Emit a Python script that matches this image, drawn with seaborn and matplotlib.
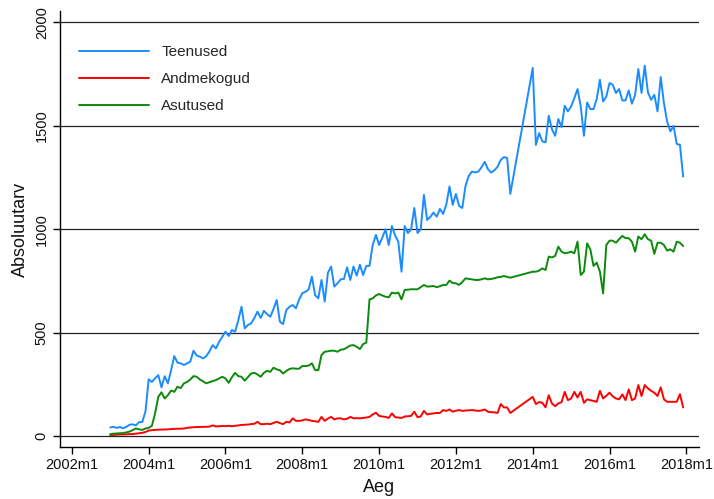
import numpy as np
import pandas as pd
import matplotlib
matplotlib.use("Agg")
import matplotlib.pyplot as plt
import seaborn as sns

# Monthly series 2003m1 .. 2017m12 (2013m7-2013m12 missing)
NA = np.nan
months = pd.period_range("2003-01", "2017-12", freq="M")

teenused = [
    42, 45, 40, 44, 38, 45, 55, 57, 52, 68, 68, 120,                     # 2003
    275, 262, 280, 295, 236, 290, 255, 319, 387, 355, 352, 344,          # 2004
    352, 360, 413, 390, 384, 376, 387, 410, 440, 424, 456, 480,          # 2005
    505, 484, 513, 505, 560, 626, 521, 537, 545, 571, 602, 571,          # 2006
    606, 590, 577, 615, 658, 553, 542, 610, 625, 634, 618, 660,          # 2007
    691, 698, 710, 771, 682, 666, 755, 650, 790, 820, 723, 739,          # 2008
    758, 760, 816, 755, 820, 776, 829, 779, 823, 823, 924, 973,          # 2009
    924, 960, 1000, 924, 1016, 970, 940, 795, 1016, 982, 1000, 1103,     # 2010
    982, 1000, 1166, 1045, 1060, 1081, 1061, 1099, 1074, 1120, 1207, 1118,  # 2011
    1171, 1113, 1103, 1210, 1258, 1279, 1275, 1279, 1300, 1326, 1291, 1274,  # 2012
    1285, 1302, 1335, 1349, 1345, 1171, NA, NA, NA, NA, NA, NA,          # 2013
    1780, 1408, 1465, 1425, 1420, 1549, 1484, 1452, 1533, 1494, 1597, 1570,  # 2014
    1594, 1634, 1678, 1594, 1452, 1613, 1581, 1581, 1630, 1723, 1618, 1642,  # 2015
    1707, 1699, 1659, 1678, 1623, 1623, 1671, 1607, 1650, 1775, 1659, 1791,  # 2016
    1662, 1626, 1650, 1570, 1736, 1610, 1521, 1473, 1500, 1413, 1408, 1255,  # 2017
]

andmekogud = [
    5, 6, 7, 8, 8, 9, 10, 10, 12, 14, 16, 20,                 # 2003
    27, 29, 30, 31, 32, 32, 33, 34, 35, 36, 36, 37,           # 2004
    40, 42, 43, 44, 44, 45, 45, 46, 52, 47, 48, 49,           # 2005
    48, 50, 48, 50, 52, 54, 55, 56, 58, 60, 69, 58,           # 2006
    58, 60, 58, 64, 69, 63, 58, 69, 66, 86, 74, 74,           # 2007
    76, 81, 78, 74, 72, 69, 93, 74, 85, 93, 81, 86,           # 2008
    86, 81, 84, 93, 86, 87, 86, 88, 90, 93, 105, 113,         # 2009
    98, 95, 93, 88, 110, 92, 90, 88, 95, 96, 98, 118,         # 2010
    92, 95, 122, 105, 108, 110, 112, 112, 126, 122, 129, 118, # 2011
    123, 126, 122, 124, 125, 126, 124, 122, 124, 129, 118, 116,  # 2012
    115, 112, 155, 139, 139, 112, NA, NA, NA, NA, NA, NA,     # 2013
    190, 155, 165, 161, 139, 198, 158, 145, 158, 164, 214, 174,  # 2014
    182, 214, 187, 214, 161, 178, 174, 170, 166, 219, 182, 195,  # 2015
    210, 192, 182, 178, 202, 174, 226, 174, 182, 247, 194, 247,  # 2016
    231, 219, 210, 194, 236, 178, 166, 166, 166, 166, 203, 139,  # 2017
]

asutused = [
    10, 12, 13, 14, 15, 18, 22, 29, 37, 33, 30, 37,               # 2003
    40, 50, 110, 190, 212, 182, 198, 220, 214, 239, 232, 255,     # 2004
    262, 274, 290, 287, 274, 265, 255, 261, 266, 271, 279, 287,   # 2005
    279, 258, 285, 306, 290, 287, 268, 285, 303, 306, 298, 287,   # 2006
    306, 316, 311, 331, 323, 318, 303, 315, 325, 328, 326, 326,   # 2007
    339, 339, 341, 352, 319, 319, 392, 408, 410, 413, 413, 408,   # 2008
    418, 420, 429, 438, 440, 432, 421, 445, 452, 661, 666, 680,   # 2009
    687, 680, 674, 671, 694, 690, 694, 661, 707, 708, 710, 710,   # 2010
    710, 720, 731, 723, 724, 726, 720, 725, 731, 731, 752, 740,   # 2011
    739, 731, 745, 763, 760, 758, 755, 755, 758, 763, 758, 760,   # 2012
    763, 768, 770, 774, 770, 766, NA, NA, NA, NA, NA, NA,         # 2013
    795, 795, 800, 811, 803, 868, 864, 871, 916, 892, 884, 887,   # 2014
    892, 884, 940, 779, 795, 932, 903, 823, 839, 795, 690, 924,   # 2015
    945, 945, 935, 952, 968, 957, 957, 940, 892, 965, 952, 976,   # 2016
    952, 945, 881, 935, 935, 924, 897, 903, 892, 940, 935, 919,   # 2017
]

series_names = ["Teenused", "Andmekogud", "Asutused"]
series_colors = ["#1a8cff", "#ff0000", "#0b8a0b"]
tick_years = list(range(2002, 2019, 2))
tick_labels = [f"{y}m1" for y in tick_years]
y_ticks = [0, 500, 1000, 1500, 2000]

# decimal time, like Stata's monthly axis
t = months.year + (months.month - 1) / 12.0
df = pd.DataFrame({"t": t, "Teenused": teenused,
                   "Andmekogud": andmekogud, "Asutused": asutused})
long_df = df.melt(id_vars="t", var_name="seeria", value_name="arv").dropna()

sns.set_theme(style="white")
plt.rcParams["font.family"] = ["Liberation Sans", "DejaVu Sans"]

fig = plt.figure(figsize=(7.14, 4.99), dpi=100)
ax = fig.add_axes([0.084, 0.104, 0.895, 0.873])

sns.lineplot(data=long_df, x="t", y="arv", hue="seeria", hue_order=series_names,
             palette=dict(zip(series_names, series_colors)), linewidth=1.4,
             ax=ax, estimator=None, sort=True)

ax.set_xlim(2001.69, 2018.33)
ax.set_ylim(-53, 2053)
ax.set_xticks(tick_years)
ax.set_xticklabels(tick_labels)
ax.set_yticks(y_ticks)
ax.set_yticklabels([str(v) for v in y_ticks], rotation=90, va="center")

ax.yaxis.grid(True, color="#222222", linewidth=0.9)
ax.xaxis.grid(False)
ax.set_axisbelow(True)

for side in ["top", "right"]:
    ax.spines[side].set_visible(False)
for side in ["left", "bottom"]:
    ax.spines[side].set_color("black")
    ax.spines[side].set_linewidth(1.0)

ax.tick_params(axis="both", direction="out", length=5, width=1, color="black",
               labelsize=10.5, labelcolor="#111111", left=True, bottom=True)
ax.tick_params(axis="y", pad=3)
ax.tick_params(axis="x", pad=3)

ax.set_xlabel("Aeg", fontsize=13, color="#111111", labelpad=5)
ax.set_ylabel("Absoluutarv", fontsize=13, color="#111111", labelpad=4)

leg = ax.legend(loc="upper left", bbox_to_anchor=(0.02, 0.937), frameon=False,
                fontsize=11, handlelength=4.6, handletextpad=0.8,
                labelspacing=0.85, borderaxespad=0)
for line in leg.get_lines():
    line.set_linewidth(1.4)

fig.savefig("out.png", dpi=100)
plt.close(fig)
